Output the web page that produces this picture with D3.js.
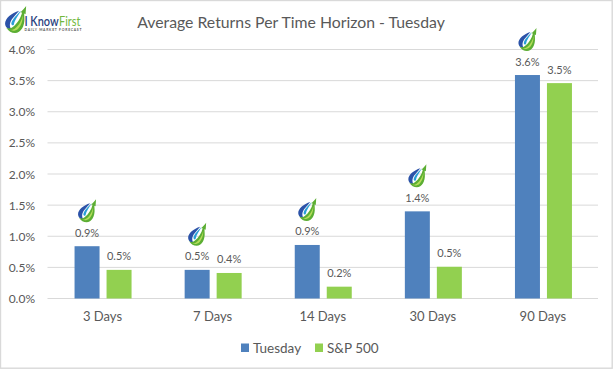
<!DOCTYPE html>
<html><head><meta charset="utf-8">
<script src="https://cdn.jsdelivr.net/npm/d3@7"></script>
<style>html,body{margin:0;padding:0;background:#fff}svg{display:block}text{font-family:Lato,"Open Sans",sans-serif}</style>
</head><body><svg id="c" width="613" height="369"></svg>
<script>
const categories=["3 Days","7 Days","14 Days","30 Days","90 Days"];
const seriesNames=["Tuesday","S&P 500"];
const tuesday=[0.84,0.46,0.86,1.40,3.59];
const sp500=[0.46,0.41,0.19,0.51,3.46];
const tuesdayLabels=["0.9%","0.5%","0.9%","1.4%","3.6%"];
const spLabels=["0.5%","0.4%","0.2%","0.5%","3.5%"];
const yTicks=[0,0.5,1,1.5,2,2.5,3,3.5,4];
const colors=["#4f81bd","#92d050"];
const textCol="#595959";

const svg=d3.select("#c");
svg.append("rect").attr("x",0.5).attr("y",0.5).attr("width",611.7).attr("height",367.7).attr("fill","#fff").attr("stroke","#d9d9d9").attr("stroke-width",1.4);

const x=d3.scaleBand().domain(categories).range([47.5,598]);
const y=d3.scaleLinear().domain([0,4]).range([298.5,49.5]);
const bw=25, off=3;

const gy=svg.append("g");
gy.selectAll("line").data(yTicks).join("line").attr("x1",47.5).attr("x2",598).attr("y1",d=>y(d)).attr("y2",d=>y(d)).attr("stroke","#d9d9d9").attr("stroke-width",1);
gy.selectAll("text").data(yTicks).join("text").attr("x",35).attr("y",d=>y(d)+4.5).attr("text-anchor","end").attr("font-size",12).attr("fill",textCol).text(d=>d.toFixed(1)+"%");

const cx=c=>x(c)+x.bandwidth()/2;
[tuesday,sp500].forEach((vals,s)=>{
  const g=svg.append("g");
  const bx=c=>s===0?cx(c)-off-bw:cx(c)+off+1;
  g.selectAll("rect").data(categories).join("rect")
    .attr("x",bx).attr("width",bw)
    .attr("y",(c,i)=>y(vals[i])).attr("height",(c,i)=>y(0)-y(vals[i]))
    .attr("fill",colors[s]);
  const labs=s===0?tuesdayLabels:spLabels;
  g.selectAll("text").data(categories).join("text")
    .attr("x",c=>bx(c)+bw/2).attr("y",(c,i)=>y(vals[i])-9.5)
    .attr("text-anchor","middle").attr("font-size",11).attr("fill",textCol).text((c,i)=>labs[i]);
});

svg.append("g").selectAll("text").data(categories).join("text").attr("x",cx).attr("y",321).attr("text-anchor","middle").attr("font-size",13).attr("fill",textCol).text(c=>c);

svg.append("text").attr("x",291).attr("y",28).attr("text-anchor","middle").attr("font-size",15.8).attr("fill",textCol).text("Average Returns Per Time Horizon - Tuesday");

// legend
const lg=svg.append("g");
const lx=[241,315];
seriesNames.forEach((n,i)=>{
  lg.append("rect").attr("x",lx[i]).attr("y",343.5).attr("width",8).attr("height",8.5).attr("fill",colors[i]);
  lg.append("text").attr("x",lx[i]+12).attr("y",352.5).attr("font-size",13.5).attr("fill",textCol).text(n);
});

// logo droplet (19x23 box)
function drop(g,tx,ty,s){
  const k=g.append("g").attr("transform",`translate(${tx},${ty}) scale(${s})`);
  k.append("path").attr("d","M12.5 4 C6 6 0.5 10.5 0.5 15 C0.5 18 3 20 6 20 C4 18 4 14 7 10.5 C8.5 8.5 11 6 12.5 4Z").attr("fill","#2b52a8");
  k.append("path").attr("d","M14 4 C11 7 6.5 11 5.8 15 C6 16.5 7 17 8 16 C8.5 12 12 8 14 4Z").attr("fill","#2a9fd6");
  k.append("path").attr("d","M18.5 0 C17.5 1.5 15 4 13.5 5.5 L15 5.5 C14 10 11 15 7 18 C5 19.5 3 19.5 1.5 18.5 C3.5 21.5 6 23 9 23 C14 23 17.5 17 17 10 L16.8 6.5 L18 7Z").attr("fill","#5cae33");
  k.append("path").attr("d","M15.6 8 C14.8 12 12.5 17 8.5 19.6 C7 20.4 5.6 20.6 4.8 20.4 C7 21.6 9.5 21.2 11.5 19.6 C14 17.5 15.8 13 15.6 8Z").attr("fill","#b4dc5a");
}
categories.forEach((c,i)=>{
  const lab=cx(c)-off-bw/2;
  drop(svg,lab-9.5,y(tuesday[i])-47,1);
});

// brand: two words squeezed horizontally as a unit so they never collide
drop(svg,4.5,6,1.17);
const brand=svg.append("g");
const w1=brand.append("text").attr("font-size",13.5).attr("font-weight",600).attr("fill","#2a3f7e").text("I Know");
const w2=brand.append("text").attr("font-size",13.5).attr("fill","#72b83c").text("First");
const n1=w1.node().getComputedTextLength(), n2=w2.node().getComputedTextLength();
w2.attr("x",n1+0.5);
brand.attr("transform",`translate(24.5,25.5) scale(${56/(n1+n2+0.5)},1)`);
svg.append("text").attr("x",24.5).attr("y",31.3).attr("font-size",3.4).attr("font-weight",700).attr("fill","#555").attr("textLength",57).attr("lengthAdjust","spacing").text("DAILY MARKET FORECAST");
</script></body></html>
